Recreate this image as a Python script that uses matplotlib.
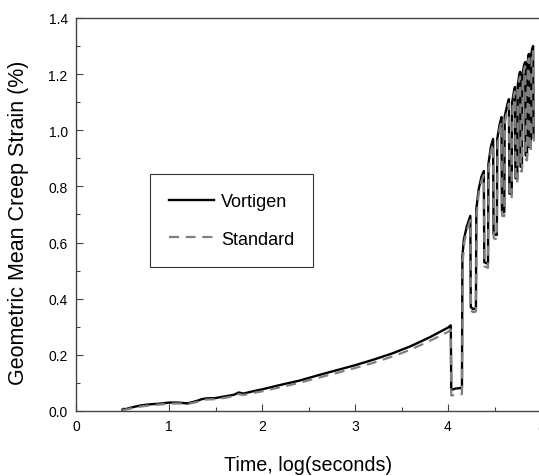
import matplotlib
matplotlib.use("Agg")
import matplotlib.pyplot as plt
from matplotlib.ticker import MultipleLocator

plt.rcParams['font.family'] = ['Liberation Sans', 'DejaVu Sans']

# Vortigen (solid black)
vort_x = [0.50, 0.55, 0.60, 0.70, 0.80, 0.90, 1.00, 1.10, 1.20, 1.30, 1.35, 1.40, 1.50,
          1.60, 1.70, 1.75, 1.80, 1.90, 2.00, 2.20, 2.40, 2.60, 2.80, 3.00, 3.20, 3.40,
          3.50, 3.60, 3.80, 4.00, 4.03,
          4.035, 4.08, 4.15,
          4.155, 4.17, 4.20, 4.24, 4.245, 4.27, 4.30,
          4.305, 4.33, 4.36, 4.385, 4.39, 4.43,
          4.435, 4.46, 4.485, 4.49, 4.525,
          4.53, 4.555, 4.575, 4.58, 4.605,
          4.61, 4.64, 4.655, 4.66, 4.685,
          4.69, 4.71, 4.72, 4.725, 4.745,
          4.75, 4.765, 4.775, 4.78, 4.795,
          4.80, 4.82, 4.83, 4.835, 4.85,
          4.855, 4.865, 4.87, 4.875, 4.89,
          4.895, 4.905, 4.915, 4.92]
vort_y = [0.005, 0.008, 0.013, 0.020, 0.024, 0.026, 0.030, 0.030, 0.027, 0.036, 0.042, 0.045, 0.046,
          0.052, 0.058, 0.066, 0.062, 0.070, 0.077, 0.093, 0.108, 0.127, 0.145, 0.163, 0.183, 0.205,
          0.218, 0.231, 0.262, 0.297, 0.305,
          0.075, 0.080, 0.082,
          0.55, 0.61, 0.655, 0.695, 0.370, 0.363, 0.365,
          0.72, 0.79, 0.835, 0.855, 0.530, 0.524,
          0.88, 0.94, 0.969, 0.630, 0.627,
          0.97, 1.02, 1.047, 0.710, 0.709,
          1.05, 1.095, 1.111, 0.775, 0.773,
          1.10, 1.14, 1.154, 0.830, 0.826,
          1.16, 1.195, 1.208, 0.870, 0.869,
          1.20, 1.235, 1.243, 0.910, 0.908,
          1.24, 1.265, 1.272, 0.940, 0.940,
          1.27, 1.290, 1.300, 0.975]

# Standard (grey dashed)
std_x = [0.50, 0.55, 0.60, 0.70, 0.80, 0.90, 1.00, 1.10, 1.20, 1.30, 1.35, 1.40, 1.50,
         1.60, 1.70, 1.75, 1.80, 1.90, 2.00, 2.20, 2.40, 2.60, 2.80, 3.00, 3.20, 3.40,
         3.50, 3.60, 3.80, 4.00, 4.03,
         4.035, 4.08, 4.15,
         4.158, 4.175, 4.20, 4.24, 4.248, 4.27, 4.30,
         4.308, 4.33, 4.36, 4.385, 4.392, 4.43,
         4.438, 4.46, 4.485, 4.492, 4.525,
         4.533, 4.555, 4.575, 4.582, 4.605,
         4.613, 4.64, 4.655, 4.662, 4.685,
         4.693, 4.71, 4.72, 4.727, 4.745,
         4.753, 4.765, 4.775, 4.782, 4.795,
         4.803, 4.82, 4.83, 4.837, 4.85,
         4.858, 4.865, 4.87, 4.877, 4.89,
         4.898, 4.905, 4.915, 4.922]
std_y = [0.003, 0.006, 0.010, 0.016, 0.020, 0.023, 0.026, 0.027, 0.025, 0.032, 0.038, 0.041, 0.042,
         0.047, 0.053, 0.060, 0.057, 0.064, 0.070, 0.085, 0.100, 0.118, 0.135, 0.153, 0.172, 0.194,
         0.206, 0.219, 0.249, 0.282, 0.290,
         0.055, 0.058, 0.060,
         0.53, 0.60, 0.64, 0.680, 0.358, 0.352, 0.354,
         0.70, 0.775, 0.82, 0.840, 0.515, 0.510,
         0.86, 0.925, 0.952, 0.615, 0.612,
         0.95, 1.005, 1.030, 0.695, 0.694,
         1.03, 1.080, 1.095, 0.760, 0.758,
         1.08, 1.125, 1.138, 0.815, 0.812,
         1.14, 1.180, 1.192, 0.855, 0.853,
         1.18, 1.220, 1.228, 0.895, 0.893,
         1.22, 1.250, 1.256, 0.925, 0.925,
         1.25, 1.275, 1.285, 0.960]

x_ticks = [0, 1, 2, 3, 4, 5]
y_ticks = [0.0, 0.2, 0.4, 0.6, 0.8, 1.0, 1.2, 1.4]

fig = plt.figure(figsize=(5.39, 4.77), dpi=100)
W, H = 539, 477
ax = fig.add_axes([76 / W, (H - 412) / H, (541 - 76) / W, (412 - 19) / H])

ax.plot(vort_x, vort_y, color='black', lw=1.7, label='Vortigen', zorder=2)
ax.plot(std_x, std_y, color='#808080', lw=1.6, ls=(0, (4.5, 3)), label='Standard', zorder=3)

ax.set_xlim(0, 5)
ax.set_ylim(0, 1.4)
ax.set_xticks(x_ticks)
ax.set_xticklabels([str(t) for t in x_ticks])
ax.set_yticks(y_ticks)
ax.set_yticklabels([f"{t:.1f}" for t in y_ticks])
ax.xaxis.set_minor_locator(MultipleLocator(0.5))
ax.yaxis.set_minor_locator(MultipleLocator(0.1))

for s in ['top', 'right', 'left', 'bottom']:
    ax.spines[s].set_color('#444444')
    ax.spines[s].set_linewidth(1.0)

ax.tick_params(which='major', direction='in', length=5, width=0.8, color='#444444',
               labelsize=10, pad=6, labelcolor='black')
ax.tick_params(which='minor', direction='in', length=3, width=0.8, color='#444444')

ax.set_xlabel('Time, log(seconds)', fontsize=14.2)
ax.xaxis.set_label_coords(0.5, -0.112)
ax.set_ylabel('Geometric Mean Creep Strain (%)', fontsize=15.5)
ax.yaxis.set_label_coords(-0.100, 0.481)

leg = ax.legend(loc='upper left', bbox_to_anchor=((150 - 76) / 465, (412 - 175) / 393),
                frameon=True, fancybox=False, edgecolor='black', fontsize=13,
                handlelength=2.5, borderpad=1.07, labelspacing=1.12, handletextpad=0.35,
                borderaxespad=0)
leg.get_frame().set_linewidth(0.8)

fig.savefig('out.png', dpi=100)
